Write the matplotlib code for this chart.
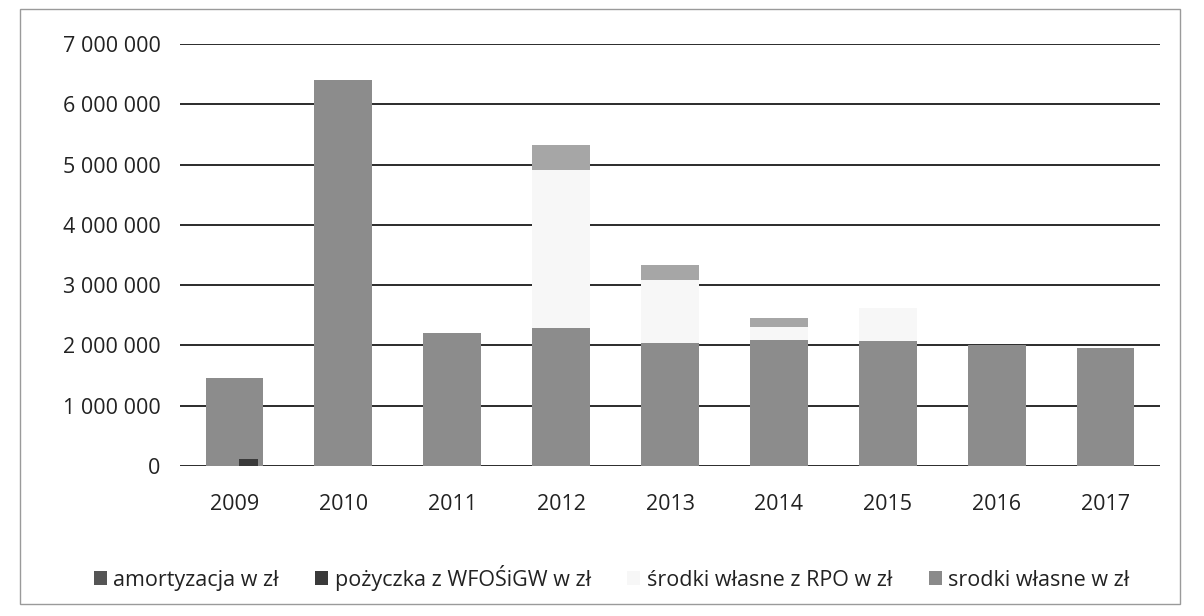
import matplotlib.pyplot as plt
import numpy as np
from matplotlib.patches import Patch, Rectangle
from matplotlib.ticker import FuncFormatter

# ----------------------------
# Data (in zł)
# ----------------------------
years = ['2009', '2010', '2011', '2012', '2013', '2014', '2015', '2016', '2017']
amortyzacja = [1460000, 6400000, 2200000, 2290000, 2040000, 2090000, 2070000, 2000000, 1960000]
pozyczka = [110000, 0, 0, 0, 0, 0, 0, 0, 0]
srodki_rpo = [0, 0, 0, 2620000, 1040000, 220000, 550000, 0, 0]
srodki_wlasne = [0, 0, 0, 410000, 250000, 140000, 0, 0, 0]
y_ticks = [0, 1000000, 2000000, 3000000, 4000000, 5000000, 6000000, 7000000]

plt.rcParams['font.family'] = ['Open Sans', 'DejaVu Sans']

c_amort = '#8c8c8c'
c_poz = '#3a3a3a'
c_rpo = '#f7f7f7'
c_wl = '#a6a6a6'

fig = plt.figure(figsize=(12.04, 6.16), dpi=100)
ax = fig.add_axes([0.1495, 0.2435, 0.814, 0.685])

x = np.arange(len(years))
width = 0.53

ax.bar(x, amortyzacja, width, color=c_amort, zorder=3)
bottom2 = np.array(amortyzacja)
ax.bar(x, srodki_rpo, width, bottom=bottom2, color=c_rpo, zorder=3)
bottom3 = bottom2 + np.array(srodki_rpo)
ax.bar(x, srodki_wlasne, width, bottom=bottom3, color=c_wl, zorder=3)
# small loan segment sits at the lower right of the 2009 bar
ax.bar(x + 0.13, pozyczka, 0.18, color=c_poz, zorder=4)

ax.set_xlim(-0.5, len(years) - 0.5)
ax.set_ylim(0, 7000000)
ax.set_yticks(y_ticks)
ax.yaxis.set_major_formatter(FuncFormatter(lambda v, p: f'{int(v):,}'.replace(',', ' ')))
ax.set_xticks(x)
ax.set_xticklabels(years)
ax.tick_params(axis='both', length=0, labelsize=15.5, colors='#222222')
ax.tick_params(axis='x', pad=20)
ax.tick_params(axis='y', pad=14)
ax.grid(axis='y', color='#1a1a1a', linewidth=1.3, zorder=1)
for s in ax.spines.values():
    s.set_visible(False)

legend_elements = [
    Patch(facecolor='#555555', label='amortyzacja w zł'),
    Patch(facecolor=c_poz, label='pożyczka z WFOŚiGW w zł'),
    Patch(facecolor=c_rpo, label='środki własne z RPO w zł'),
    Patch(facecolor='#8a8a8a', label='srodki własne w zł'),
]
fig.legend(handles=legend_elements, loc='center', bbox_to_anchor=(0.508, 0.062), ncol=4,
           frameon=False, fontsize=15.5, handlelength=0.6, handleheight=0.6,
           handletextpad=0.3, columnspacing=1.7, labelcolor='#222222')

# outer frame of the chart area
fig.add_artist(Rectangle((0.017, 0.02), 0.963, 0.965, transform=fig.transFigure,
                         fill=False, edgecolor='#9a9a9a', linewidth=1.0))

plt.savefig('out.png', dpi=100)
